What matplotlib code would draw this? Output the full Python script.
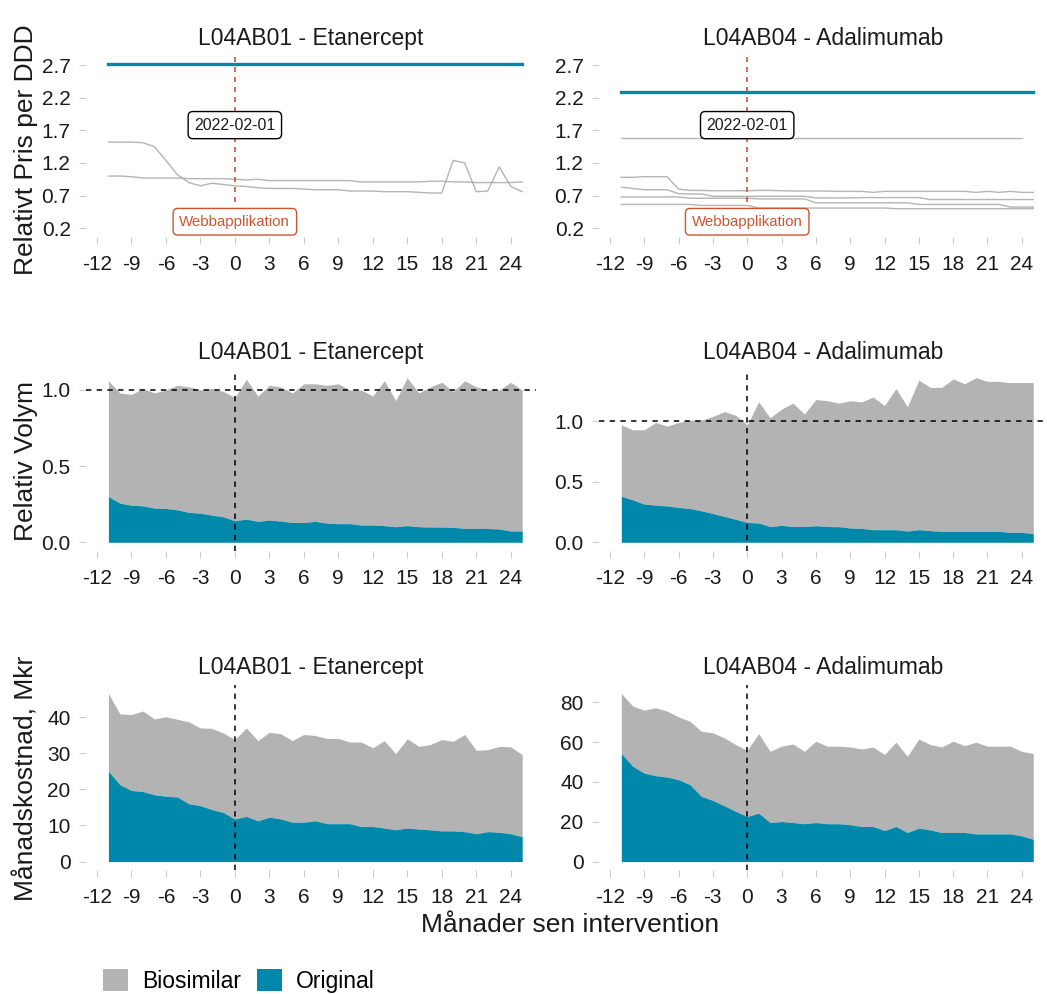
import matplotlib
matplotlib.use("Agg")
import matplotlib.pyplot as plt
from matplotlib.patches import Patch
import numpy as np

plt.rcParams['font.family'] = ['Liberation Sans', 'DejaVu Sans']

# ---------------- data ----------------
months = [-11, -10, -9, -8, -7, -6, -5, -4, -3, -2, -1, 0, 1, 2, 3, 4, 5, 6, 7, 8, 9,
          10, 11, 12, 13, 14, 15, 16, 17, 18, 19, 20, 21, 22, 23, 24, 25]
x_ticks = [-12, -9, -6, -3, 0, 3, 6, 9, 12, 15, 18, 21, 24]

titles = ["L04AB01 - Etanercept", "L04AB04 - Adalimumab"]

# Relative price per DDD
pris_L04AB01_original = [2.72] * 37
pris_L04AB01_bio1 = [1.52, 1.52, 1.52, 1.51, 1.45, 1.24, 1.02, 0.90, 0.85, 0.89, 0.87, 0.85,
                     0.84, 0.82, 0.81, 0.81, 0.81, 0.80, 0.79, 0.79, 0.79, 0.77, 0.77, 0.77,
                     0.76, 0.76, 0.76, 0.75, 0.74, 0.74, 1.24, 1.20, 0.76, 0.77, 1.14, 0.84, 0.76]
pris_L04AB01_bio2 = [1.00, 1.00, 0.99, 0.97, 0.97, 0.97, 0.97, 0.96, 0.96, 0.96, 0.96, 0.95,
                     0.94, 0.95, 0.93, 0.93, 0.93, 0.93, 0.93, 0.93, 0.93, 0.93, 0.91, 0.91,
                     0.91, 0.91, 0.91, 0.91, 0.92, 0.92, 0.91, 0.91, 0.90, 0.90, 0.90, 0.90, 0.91]

pris_L04AB04_original = [2.29] * 37
pris_L04AB04_bio1 = [1.58, 1.58, 1.58, 1.58, 1.58, 1.58, 1.58, 1.58, 1.58, 1.58, 1.58, 1.58,
                     1.58, 1.58, 1.58, 1.58, 1.58, 1.58, 1.58, 1.58, 1.58, 1.58, 1.58, 1.58,
                     1.58, 1.58, 1.58, 1.58, 1.58, 1.58, 1.58, 1.58, 1.58, 1.58, 1.58, 1.58, np.nan]
pris_L04AB04_bio2 = [0.98, 0.98, 0.99, 0.99, 0.99, 0.80, 0.78, 0.78, 0.775, 0.775, 0.775, 0.775,
                     0.78, 0.78, 0.775, 0.77, 0.77, 0.77, 0.77, 0.765, 0.765, 0.765, 0.75, 0.765,
                     0.765, 0.765, 0.765, 0.765, 0.765, 0.765, 0.765, 0.75, 0.765, 0.75, 0.765, 0.75, 0.75]
pris_L04AB04_bio3 = [0.83, 0.81, 0.79, 0.79, 0.79, 0.73, 0.725, 0.725, 0.69, 0.69, 0.69, 0.69,
                     0.69, 0.69, 0.69, 0.69, 0.69, 0.665, 0.665, 0.665, 0.665, 0.67, 0.67, 0.67,
                     0.67, 0.67, 0.67, 0.64, 0.64, 0.64, 0.64, 0.64, 0.64, 0.64, 0.64, 0.64, 0.64]
pris_L04AB04_bio4 = [0.68, 0.68, 0.68, 0.68, 0.68, 0.68, 0.66, 0.66, 0.66, 0.66, 0.66, 0.66,
                     0.65, 0.65, 0.65, 0.65, 0.65, 0.59, 0.59, 0.59, 0.59, 0.59, 0.59, 0.59,
                     0.59, 0.59, 0.565, 0.565, 0.565, 0.565, 0.565, 0.565, 0.565, 0.565, 0.525, 0.525, 0.525]
pris_L04AB04_bio5 = [0.565, 0.565, 0.565, 0.565, 0.565, 0.565, 0.565, 0.55, 0.55, 0.55, 0.55, 0.55,
                     0.51, 0.51, 0.51, 0.51, 0.51, 0.51, 0.51, 0.51, 0.51, 0.51, 0.51, 0.51,
                     0.50, 0.50, 0.50, 0.50, 0.50, 0.50, 0.50, 0.50, 0.50, 0.50, 0.50, 0.50, 0.50]

# Relative volume (total = original + biosimilar)
volym_L04AB01_total = [1.06, 0.98, 0.97, 1.01, 0.98, 1.00, 1.03, 1.02, 1.00, 1.01, 0.99, 0.95,
                       1.07, 0.96, 1.03, 1.02, 0.98, 1.04, 1.04, 1.03, 1.04, 1.00, 1.00, 0.96,
                       1.06, 0.93, 1.08, 0.98, 1.02, 1.05, 0.99, 1.06, 1.02, 1.00, 1.00, 1.05, 1.00]
volym_L04AB01_original = [0.30, 0.257, 0.243, 0.239, 0.224, 0.222, 0.213, 0.196, 0.191, 0.178, 0.167, 0.141,
                          0.152, 0.137, 0.146, 0.139, 0.130, 0.130, 0.137, 0.126, 0.122, 0.122, 0.113, 0.113,
                          0.109, 0.102, 0.109, 0.102, 0.100, 0.100, 0.098, 0.091, 0.091, 0.091, 0.087, 0.074, 0.074]
volym_L04AB04_total = [0.97, 0.93, 0.93, 0.99, 0.96, 0.99, 1.01, 1.01, 1.04, 1.08, 1.05, 0.97,
                       1.16, 1.03, 1.10, 1.15, 1.06, 1.18, 1.17, 1.15, 1.17, 1.16, 1.20, 1.13,
                       1.27, 1.12, 1.34, 1.28, 1.28, 1.35, 1.31, 1.36, 1.33, 1.33, 1.32, 1.32, 1.32]
volym_L04AB04_original = [0.38, 0.35, 0.315, 0.307, 0.30, 0.288, 0.279, 0.26, 0.238, 0.214, 0.19, 0.164,
                          0.159, 0.13, 0.14, 0.13, 0.13, 0.137, 0.13, 0.129, 0.118, 0.115, 0.104, 0.104,
                          0.104, 0.093, 0.104, 0.096, 0.09, 0.09, 0.09, 0.09, 0.09, 0.09, 0.082, 0.082, 0.071]

# Monthly cost, Mkr
kostnad_L04AB01_total = [46.6, 40.9, 40.7, 41.7, 39.5, 40.1, 39.4, 38.7, 37.0, 36.9, 35.6, 33.8,
                         37.0, 33.5, 35.8, 35.4, 33.5, 35.2, 34.9, 34.1, 34.1, 33.1, 33.1, 31.5,
                         33.5, 29.9, 34.0, 31.9, 32.4, 33.8, 33.3, 35.2, 30.8, 31.0, 31.9, 31.8, 29.6]
kostnad_L04AB01_original = [25.0, 21.3, 19.7, 19.4, 18.5, 18.1, 17.9, 16.0, 15.5, 14.4, 13.6, 11.8,
                            12.5, 11.3, 12.3, 11.8, 10.9, 10.9, 11.3, 10.5, 10.5, 10.5, 9.7, 9.7,
                            9.3, 8.8, 9.3, 9.0, 8.8, 8.5, 8.5, 8.3, 7.7, 8.3, 8.1, 7.7, 6.9]
kostnad_L04AB04_total = [84.4, 78.0, 76.0, 77.2, 75.5, 72.6, 70.4, 65.4, 64.6, 62.1, 58.7, 55.8,
                         64.2, 55.3, 57.9, 59.0, 55.3, 60.4, 57.9, 57.9, 57.5, 56.5, 57.5, 53.7,
                         59.9, 52.8, 61.5, 58.7, 57.5, 60.4, 58.2, 59.9, 57.9, 57.9, 57.9, 55.3, 54.2]
kostnad_L04AB04_original = [54.2, 47.8, 44.4, 43.1, 42.4, 41.1, 38.6, 32.7, 30.7, 28.0, 25.2, 22.6,
                            24.3, 19.6, 20.1, 19.6, 19.0, 19.6, 19.0, 19.0, 18.5, 17.6, 17.6, 15.6,
                            17.6, 14.6, 16.8, 15.9, 14.6, 14.6, 14.6, 13.9, 13.9, 13.9, 13.9, 12.9, 11.2]

intervention_month = 0
intervention_date = "2022-02-01"
intervention_label = "Webbapplikation"
legend_labels = ["Biosimilar", "Original"]

# ---------------- style ----------------
BLUE = "#0088AB"
GRAY_FILL = "#B3B3B3"
GRAY_LINE = "#A8A8A8"
RED = "#CC5530"
TXT = "#1a1a1a"

W, H = 1047, 994
fig = plt.figure(figsize=(W / 100, H / 100), dpi=100)

def add_ax(x0, top, w, h):
    return fig.add_axes([x0 / W, 1 - (top + h) / H, w / W, h / H])

col_x = [(86, 450), (599, 448)]
rows = [(55.5, 181), (369.5, 181), (685, 185)]
xlim = (-12.95, 26.2)

axes = [[add_ax(cx, rt, cw, rh) for (cx, cw) in col_x] for (rt, rh) in rows]

for r in range(3):
    for c in range(2):
        ax = axes[r][c]
        for s in ax.spines.values():
            s.set_visible(False)
        ax.set_xlim(*xlim)
        ax.set_xticks(x_ticks)
        ax.set_xticklabels([str(t) for t in x_ticks])
        ax.tick_params(axis='both', length=5, width=0.8, color='#cccccc',
                       labelsize=15, labelcolor=TXT)
        ax.tick_params(axis='x', pad=8)
        ax.tick_params(axis='y', pad=6)
        ax.annotate(titles[c], xy=(0.5, 1), xycoords='axes fraction',
                    xytext=(0, 12.3), textcoords='offset points',
                    ha='center', va='center', fontsize=16.5, color=TXT)

# ---- top row: prices ----
top_ylim = (0.074, 2.846)
price_ticks = [0.2, 0.7, 1.2, 1.7, 2.2, 2.7]
price_sets = [
    (pris_L04AB01_original, [pris_L04AB01_bio1, pris_L04AB01_bio2]),
    (pris_L04AB04_original, [pris_L04AB04_bio1, pris_L04AB04_bio2, pris_L04AB04_bio3,
                             pris_L04AB04_bio4, pris_L04AB04_bio5]),
]
for c, (orig, bios) in enumerate(price_sets):
    ax = axes[0][c]
    ax.set_ylim(*top_ylim)
    ax.set_yticks(price_ticks)
    ax.set_yticklabels([f"{t:.1f}" for t in price_ticks])
    for b in bios:
        ax.plot(months, b, color=GRAY_LINE, lw=1.0, alpha=0.85, zorder=2)
    ax.plot(months, orig, color=BLUE, lw=2.4, zorder=3)
    ax.vlines(intervention_month, 0.6, top_ylim[1], colors=RED, linestyles=(0, (3, 3)),
              lw=1.2, zorder=4)
    ax.text(intervention_month, 1.78, intervention_date, ha='center', va='center',
            fontsize=11.5, color=TXT, zorder=5,
            bbox=dict(boxstyle='round,pad=0.38,rounding_size=0.3', fc='white', ec='black', lw=1.0))
    ax.text(intervention_month, 0.30, intervention_label, ha='center', va='center',
            fontsize=10.8, color=RED, zorder=5,
            bbox=dict(boxstyle='round,pad=0.42,rounding_size=0.3', fc='white', ec=RED, lw=1.0))

# ---- middle row: volumes ----
vol_sets = [(volym_L04AB01_total, volym_L04AB01_original, (-0.054, 1.134)),
            (volym_L04AB04_total, volym_L04AB04_original, (-0.068, 1.428))]
for c, (tot, orig, yl) in enumerate(vol_sets):
    ax = axes[1][c]
    ax.fill_between(months, orig, tot, color=GRAY_FILL, lw=0, zorder=1)
    ax.fill_between(months, 0, orig, color=BLUE, lw=0, zorder=2)
    ax.set_ylim(*yl)
    ax.set_yticks([0.0, 0.5, 1.0])
    ax.set_yticklabels(["0.0", "0.5", "1.0"])
    ax.axhline(1.0, color='black', ls=(0, (3.5, 3.5)), lw=1.1, zorder=3)
    ax.axvline(intervention_month, color='black', ls=(0, (3.5, 3.5)), lw=1.1, zorder=3)

# ---- bottom row: costs ----
cost_sets = [(kostnad_L04AB01_total, kostnad_L04AB01_original, (-2.33, 48.9), [0, 10, 20, 30, 40]),
             (kostnad_L04AB04_total, kostnad_L04AB04_original, (-4.22, 88.6), [0, 20, 40, 60, 80])]
for c, (tot, orig, yl, yt) in enumerate(cost_sets):
    ax = axes[2][c]
    ax.fill_between(months, orig, tot, color=GRAY_FILL, lw=0, zorder=1)
    ax.fill_between(months, 0, orig, color=BLUE, lw=0, zorder=2)
    ax.set_ylim(*yl)
    ax.set_yticks(yt)
    ax.set_yticklabels([str(t) for t in yt])
    ax.axvline(intervention_month, color='black', ls=(0, (3.5, 3.5)), lw=1.1, zorder=3)

# ---- axis titles ----
fig.text(26 / W, 1 - 150 / H, "Relativt Pris per DDD", rotation=90, ha='center', va='center',
         fontsize=19, color=TXT)
fig.text(26 / W, 1 - 461 / H, "Relativ Volym", rotation=90, ha='center', va='center',
         fontsize=19, color=TXT)
fig.text(26 / W, 1 - 778 / H, "Månadskostnad, Mkr", rotation=90, ha='center', va='center',
         fontsize=19, color=TXT)
fig.text(570 / W, 1 - 925 / H, "Månader sen intervention", ha='center', va='center',
         fontsize=19, color=TXT)

# ---- legend ----
handles = [Patch(facecolor=GRAY_FILL, edgecolor='none'), Patch(facecolor=BLUE, edgecolor='none')]
fig.legend(handles, legend_labels, loc='lower left', bbox_to_anchor=(103 / W, 1 / H),
           ncol=2, frameon=False, fontsize=16.5, handlelength=1.1, handleheight=1.1,
           handletextpad=0.6, columnspacing=0.7, borderaxespad=0, borderpad=0)

fig.savefig("out.png", dpi=100)
